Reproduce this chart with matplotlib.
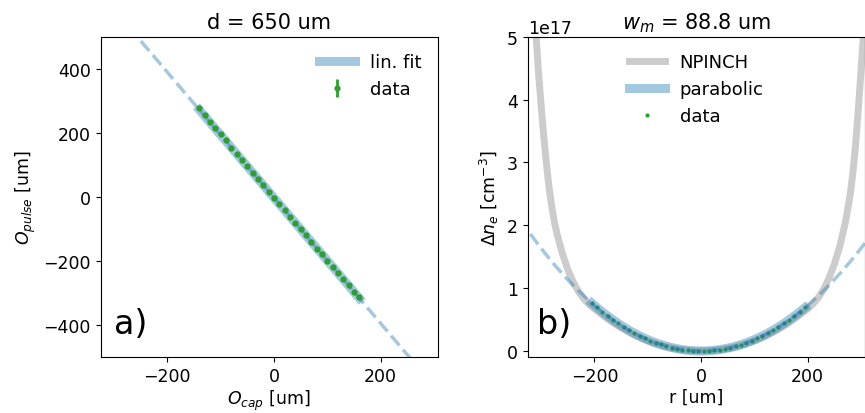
import numpy as np
import matplotlib
matplotlib.use("Agg")
import matplotlib.pyplot as plt

# panel a) : pulse offset vs capillary offset
o_cap = [-140, -130, -120, -110, -100, -90, -80, -70, -60, -50, -40, -30, -20, -10, 0,
         10, 20, 30, 40, 50, 60, 70, 80, 90, 100, 110, 120, 130, 140, 150, 160]
o_pulse = [276, 255, 234, 216, 196, 177, 154, 133, 115, 96, 76, 55, 36, 16, -3,
           -22, -41, -62, -80, -101, -120, -140, -161, -179, -199, -218, -236, -257, -276, -295, -313]
o_pulse_err = 5
fit_slope = -1.958
fit_offset = -2.4
d_um = 650

# panel b) : density profile
w_m = 88.8  # um
r_data = [-205, -195, -185, -175, -165, -155, -145, -135, -125, -115, -105, -95, -85, -75,
          -65, -55, -45, -35, -25, -15, -5, 5, 15, 25, 35, 45, 55, 65, 75, 85, 95, 105,
          115, 125, 135, 145, 155, 165, 175, 185, 195]
ne_data = [0.770, 0.697, 0.627, 0.561, 0.497, 0.441, 0.384, 0.335, 0.285, 0.243, 0.201,
           0.166, 0.131, 0.104, 0.076, 0.056, 0.036, 0.023, 0.010, 0.005, 0.001, 0.000,
           0.004, 0.012, 0.021, 0.038, 0.054, 0.078, 0.102, 0.133, 0.164, 0.203, 0.241,
           0.287, 0.333, 0.386, 0.439, 0.499, 0.559, 0.627, 0.695]  # x1e17 cm^-3

r_npinch = [-310, -305, -300, -295, -290, -285, -280, -275, -270, -260, -250, -240, -230,
            -220, -210, -200, -180, -160, -140, -120, -100, -80, -60, -40, -20, 0,
            20, 40, 60, 80, 100, 120, 140, 160, 180, 200, 210, 220, 230, 240, 250, 260,
            270, 275, 280, 285, 290, 295, 300, 305]
ne_npinch = [5.10, 4.45, 3.92, 3.42, 2.98, 2.60, 2.30, 2.05, 1.86, 1.55, 1.30, 1.10, 0.95,
             0.83, 0.74, 0.67, 0.54, 0.42, 0.32, 0.23, 0.16, 0.10, 0.055, 0.025, 0.006, 0.0,
             0.006, 0.025, 0.055, 0.10, 0.16, 0.23, 0.32, 0.42, 0.54, 0.67, 0.75, 0.85,
             0.98, 1.16, 1.38, 1.66, 2.02, 2.25, 2.50, 2.85, 3.30, 3.85, 4.45, 5.10]

plt.rcParams['font.size'] = 12.5

fig = plt.figure(figsize=(8.65, 4.14), dpi=100)
ax1 = fig.add_axes([0.1164, 0.1345, 0.3896, 0.7745])
ax2 = fig.add_axes([0.6101, 0.1345, 0.3896, 0.7745])

blue = 'tab:blue'
xlim = (-325, 307)

# --- a)
x_fit = np.array([min(o_cap), max(o_cap)])
x_ext = np.array([-340, 340])
ax1.plot(x_fit, fit_slope * x_fit + fit_offset, color=blue, alpha=0.4, lw=6.5, label='lin. fit')
ax1.plot(x_ext, fit_slope * x_ext + fit_offset, '--', color=blue, alpha=0.4, lw=2.5)
ax1.errorbar(o_cap, o_pulse, yerr=o_pulse_err, fmt='o', color='tab:green', ms=3.5,
             elinewidth=2, label='data')
ax1.set_xlim(xlim)
ax1.set_ylim(-500, 500)
ax1.set_xlabel('$O_{cap}$ [um]', labelpad=2)
ax1.set_ylabel('$O_{pulse}$ [um]')
ax1.set_title('d = %d um' % d_um)
ax1.legend(loc='upper right', frameon=False, fontsize=13)
ax1.text(0.04, 0.075, 'a)', transform=ax1.transAxes, fontsize=24)

# --- b)
r_e = 2.8179e-15  # m
k = 1.0 / (np.pi * r_e * (w_m * 1e-6) ** 4) * 1e-6 * 1e-12  # cm^-3 per um^2
r_fit = np.linspace(min(r_data), max(r_data), 200)
r_ext = np.linspace(-340, 340, 400)
ax2.plot(r_npinch, np.array(ne_npinch) * 1e17, color='0.8', lw=5, label='NPINCH')
ax2.plot(r_data, np.array(ne_data) * 1e17, '.', color='tab:green', ms=4, label='data')
ax2.plot(r_fit, k * r_fit ** 2, color=blue, alpha=0.4, lw=6.5, label='parabolic')
ax2.plot(r_ext, k * r_ext ** 2, '--', color=blue, alpha=0.4, lw=2.5)
ax2.set_xlim(xlim)
ax2.set_ylim(-0.1e17, 5e17)
ax2.set_xlabel('r [um]', labelpad=2)
ax2.set_ylabel(r'$\Delta n_e$ [cm$^{-3}$]')
ax2.set_title('$w_m$ = %.1f um' % w_m)
h, l = ax2.get_legend_handles_labels()
ax2.legend([h[0], h[2], h[1]], [l[0], l[2], l[1]], loc='upper center', frameon=False, fontsize=13)
ax2.text(0.027, 0.075, 'b)', transform=ax2.transAxes, fontsize=24)

fig.savefig('out.png', dpi=100)
